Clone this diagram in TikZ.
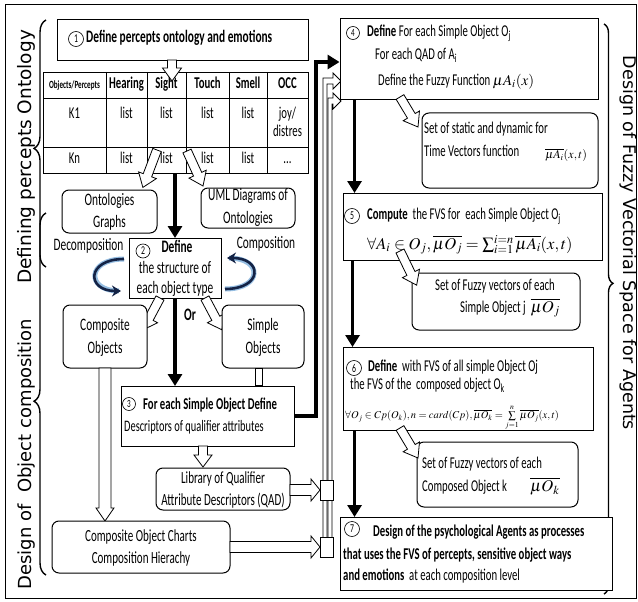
\documentclass[tikz,border=0pt]{standalone}
\usepackage{mathptmx}
\usepackage[no-math]{fontspec}
\setmainfont{Carlito}[FakeStretch=0.65]
\newfontfamily\lblfont{DejaVu Sans}
\usetikzlibrary{arrows.meta,decorations.pathreplacing}
\definecolor{dknavy}{RGB}{20,35,70}
\newcommand\fsz[1]{\fontsize{#1}{#1}\selectfont}
\newcommand\arsw{4.5}
\newcommand\arhw{9.5}
\newcommand\harrow[4][13]{%
  \begin{scope}[shift={(#2)},rotate=#3]
    \draw[holl] (0,-\arsw) -- ({#4-#1},-\arsw) -- ({#4-#1},-\arhw) -- (#4,0) -- ({#4-#1},\arhw) -- ({#4-#1},\arsw) -- (0,\arsw) -- cycle;
  \end{scope}}
\begin{document}
\begin{tikzpicture}[x=1pt,y=-1pt,
  bx/.style={draw, line width=0.9pt, fill=white, inner sep=0pt},
  rbx/.style={bx, rounded corners=7pt, line width=1pt},
  holl/.style={draw, fill=white, line width=0.8pt, line join=miter},
  tarr/.style={line width=3.2pt, -{Triangle[length=12pt,width=14pt]}},
  tx/.style={inner sep=0pt, text height=10pt, text depth=3pt, font=\fsz{16.5}},
  tb/.style={tx, font=\fsz{16.5}\bfseries},
  numc/.style={circle, draw, line width=0.6pt, inner sep=0pt, minimum size=15pt, font=\fsz{12}, fill=white},
  brc/.style={decorate, line width=1.4pt},
  lab/.style={inner sep=0pt},
  curv/.style={line width=2.6pt, draw=dknavy, -{Stealth[length=9pt,width=11pt]}},
  glow/.style={line width=5pt, draw=cyan!50!blue, opacity=0.45}
]
\fill[white] (0,0) rectangle (638,602);
\path[use as bounding box] (0,0) rectangle (638,602);
\draw[line width=0.8pt] (5,4) rectangle (636,598);

% braces and side labels
\draw[brc, decoration={brace, amplitude=12pt, aspect=0.48}] (46,267) -- (46,20);
\draw[brc, decoration={brace, amplitude=12pt, aspect=0.48}] (46,575) -- (46,213);
\draw[brc, decoration={brace, amplitude=9pt, aspect=0.455}] (604,24) -- (604,594);
\node[lab, font=\lblfont\fsz{18.5}, rotate=90] (L1) at (26,157) {Defining percepts Ontology};
\node[lab, font=\lblfont\fsz{18}, rotate=90] (L2) at (27,454) {Design of\ \ Object composition};
\node[lab, font=\lblfont\fsz{17.5}, rotate=-90] (L3) at (628,243) {Design of Fuzzy Vectorial Space for Agents};

% step 1
\node[bx, minimum width=251pt, minimum height=41pt] (s1) at (182.5,39.5) {};
\node[numc] (c1) at (76,39) {1};
\node[tx, font=\fsz{17.5}\bfseries, anchor=west] (t1) at (86,39) {Define percepts ontology and emotions};

% table
\node[bx, minimum width=265pt, minimum height=101pt] (tbl) at (175.5,122.5) {};
\foreach \yy in {98,147} \draw[line width=0.8pt] (43,\yy) -- (308,\yy);
\foreach \xx in {106,147,186,229,267} \draw[line width=0.8pt] (\xx,72) -- (\xx,173);
\node[tb, font=\fsz{11}\bfseries] (h0) at (74.5,85) {Objects/Percepts};
\node[tb] (h1) at (126.5,85) {Hearing};
\node[tb] (h2) at (166.5,85) {Sight};
\node[tb] (h3) at (207.5,85) {Touch};
\node[tb] (h4) at (248,85) {Smell};
\node[tb] (h5) at (287.5,85) {OCC};
\node[tx] (r10) at (74.5,115) {K1};
\node[tx] (r11) at (126.5,115) {list};
\node[tx] (r12) at (166.5,115) {list};
\node[tx] (r13) at (207.5,115) {list};
\node[tx] (r14) at (248,115) {list};
\node[tx] (r15) at (287.5,115) {joy/};
\node[tx] (r16) at (287.5,133) {distres};
\node[tx] (r20) at (74.5,160) {Kn};
\node[tx] (r21) at (126.5,160) {list};
\node[tx] (r22) at (166.5,160) {list};
\node[tx] (r23) at (207.5,160) {list};
\node[tx] (r24) at (248,160) {list};
\node[tx] (r25) at (287.5,160) {...};

\harrow{172,60}{-90}{21}
\harrow{157,150}{-110.7}{40}
\harrow{187,151}{-65.4}{38.5}

% ontologies / uml
\node[rbx, minimum width=95pt, minimum height=43pt] (ont) at (109.5,211.5) {};
\node[tx, font=\fsz{17.5}] (ont1) at (109.5,202) {Ontologies};
\node[tx, font=\fsz{17.5}] (ont2) at (109.5,224) {Graphs};
\node[rbx, minimum width=94pt, minimum height=40pt] (uml) at (248,208) {};
\node[tx, font=\fsz{17.5}] (uml1) at (248,197) {UML Diagrams of};
\node[tx, font=\fsz{17.5}] (uml2) at (248,220) {Ontologies};

\draw[tarr] (tbl.south -| 175,0) -- (175,238);

% step 2
\node[tx, font=\fsz{17.5}, fill=white, inner xsep=2pt, inner ysep=2pt] (dec) at (88.5,246.5) {Decomposition};
\node[tx, font=\fsz{17.5}, fill=white, inner xsep=2pt, inner ysep=2pt] (com) at (266,245) {Composition};
\node[bx, minimum width=92pt, minimum height=60pt] (s2) at (175,268) {};
\node[numc, minimum size=14pt] (c2) at (143,251) {2};
\node[tb, font=\fsz{17.5}\bfseries] (t2a) at (177,249) {Define};
\node[tx, font=\fsz{17.5}] (t2b) at (175,270) {the structure of};
\node[tx, font=\fsz{17.5}] (t2c) at (175,290) {each object type};

\draw[glow] (124,259) .. controls (86,259) and (86,291) .. (119,291);
\draw[curv] (124,259) .. controls (86,259) and (86,291) .. (121,291);
\draw[glow] (225,289) .. controls (263,289) and (263,258) .. (229,258);
\draw[curv] (225,289) .. controls (263,289) and (263,258) .. (227,258);

\node[tb, font=\fsz{17.5}\bfseries] (or) at (190,317) {Or};
\harrow{160,298}{-118}{36}
\harrow{205,298}{-62}{36}

\node[rbx, minimum width=84pt, minimum height=63pt] (cobj) at (105,336.5) {};
\node[tx, font=\fsz{17.5}] (co1) at (105,327) {Composite};
\node[tx, font=\fsz{17.5}] (co2) at (105,350) {Objects};
\node[rbx, minimum width=82pt, minimum height=63pt] (sobj) at (263,336.5) {};
\node[tx, font=\fsz{17.5}] (so1) at (263,327) {Simple};
\node[tx, font=\fsz{17.5}] (so2) at (263,350) {Objects};

\draw[tarr] (s2.south) -- (s2.south |- 0,386);

% step 3
\node[bx, minimum width=173pt, minimum height=60pt] (s3) at (207.5,416) {};
\node[numc, minimum size=13pt, font=\fsz{11}] (c3) at (129,404) {3};
\node[tb, anchor=west] (t3a) at (143,406) {For each Simple Object Define};
\node[tx, anchor=west, font=\fsz{16}] (t3b) at (124,428) {Descriptors of qualifier attributes};
\draw[holl] ([xshift=-8pt]sobj.south) rectangle ([xshift=-1pt]sobj.south |- s3.north);

\renewcommand\arsw{6}\renewcommand\arhw{9}
\harrow[13]{105,368}{-90}{153}
\renewcommand\arsw{4.5}\renewcommand\arhw{9}
\harrow[12]{203,446}{-90}{21}

\node[rbx, minimum width=134pt, minimum height=42pt] (lib) at (223,489) {};
\node[tx, font=\fsz{17}] (lib1) at (223,480) {Library of Qualifier};
\node[tx, font=\fsz{17}] (lib2) at (223,502) {Attribute Descriptors (QAD)};
\node[rbx, minimum width=178pt, minimum height=52pt] (cht) at (141,547) {};
\node[tx, font=\fsz{17}] (ch1) at (141,538) {Composite Object Charts};
\node[tx, font=\fsz{17}] (ch2) at (141,560) {Composition Hierachy};

% pipes into step 4
\draw[holl] (323,547) -- (323,78) -- (333,78) -- (333,73) -- (341,81) -- (333,89) -- (333,84) -- (327,84) -- (327,547);
\draw[holl] (328,547) -- (328,98) -- (333,98) -- (333,93) -- (341,101) -- (333,109) -- (333,104) -- (332,104) -- (332,547);
\node[bx, minimum width=13pt, minimum height=20pt] (sq1) at (326.5,490) {};
\node[bx, minimum width=13pt, minimum height=20pt] (sq2) at (326.5,547) {};
\renewcommand\arsw{5.5}\renewcommand\arhw{11}
\harrow[9]{290,490}{0}{30}
\harrow[9]{230,547}{0}{90}
\renewcommand\arsw{4.5}\renewcommand\arhw{9.5}

% step 4
\node[bx, minimum width=258pt, minimum height=81pt] (s4) at (469,58.5) {};
\coordinate (k1) at (316,62);
\draw[tarr] (s3.east) -| (k1) -- (k1 -| s4.west);
\node[numc, minimum size=13pt, font=\fsz{11}] (c4) at (353,33) {4};
\node[tx, anchor=west] (t4a) at (367,33) {\textbf{Define} For each Simple Object O\textsubscript{j}};
\node[tx, anchor=west] (t4b) at (375,56) {For each QAD of A\textsubscript{i}};
\node[tx, anchor=west] (t4c) at (378,82) {Define the Fuzzy Function {\fsz{15}$\mu A_i(x)$}};

\node[rbx, minimum width=176pt, minimum height=75pt] (set1) at (510,150.5) {};
\node[tx, anchor=west] (st1) at (424,130) {Set of static and dynamic for};
\node[tx, anchor=west] (st2) at (424,153) {Time Vectors function};
\node[tx, anchor=west, font=\fsz{12}] (st3) at (545,155) {$\overline{\mu A_i}(x,t)$};
\harrow{400,97}{-59}{35}

\coordinate (a4) at ([xshift=15pt]s4.south west);
\draw[tarr] (a4) -- (a4 |- 0,193);

% step 5
\node[bx, minimum width=259pt, minimum height=67pt] (s5) at (472.5,226.5) {};
\node[numc] (c5) at (352,216) {5};
\node[tx, anchor=west] (t5a) at (367,216) {\textbf{Compute}\ \ the FVS for\ \ each Simple Object O\textsubscript{j}};
\node[tx, anchor=west] (t5b) at (367,246) {$\forall A_i \in O_j, \overline{\mu O_j} = \sum_{i=1}^{i=n} \overline{\mu A_i}(x,t)$};

\node[rbx, minimum width=168pt, minimum height=57pt] (set2) at (496,301.5) {};
\node[tx] (ss1) at (495,287) {Set of Fuzzy vectors of each};
\node[tx, anchor=west] (ss2) at (460,309) {Simple Object j\ \ $\overline{\mu O_j}$};
\harrow{400,251}{-64}{38}

\coordinate (a5) at ([xshift=10pt]s5.south west);
\draw[tarr] (a5) -- (a5 |- 0,347);

% step 6
\node[bx, minimum width=250pt, minimum height=83pt] (s6) at (468,388.5) {};
\node[numc] (c6) at (354,368) {6};
\node[tx, anchor=west] (t6a) at (368,368) {\textbf{Define}\ \ with FVS of all simple Object Oj};
\node[tx, anchor=west] (t6b) at (350,386) {the FVS of the\ \ composed object O\textsubscript{k}};
\node[tx, anchor=west, font=\fsz{10.5}] (t6c) at (345,415) {$\forall O_j \in Cp(O_k), n = card(Cp), \overline{\mu O_k} = \sum\limits_{j=1}^{n} \overline{\mu O_j}(x,t)$};

\node[rbx, minimum width=161pt, minimum height=65pt] (set3) at (497.5,474.5) {};
\node[tx, anchor=west] (sc1) at (422,465) {Set of Fuzzy vectors of each};
\node[tx, anchor=west] (sc2) at (422,488) {Composed Object k};
\node[tx, anchor=west] (sc3) at (530,488) {$\overline{\mu O_k}$};
\harrow{400,428}{-59}{35}

\coordinate (a6) at ([xshift=12pt]s6.south west);
\draw[tarr] (a6) -- (a6 |- 0,517);

% step 7
\node[bx, minimum width=272pt, minimum height=73pt] (s7) at (476,553.5) {};
\node[numc] (c7) at (352,529) {7};
\node[tb, anchor=west] (t7a) at (373,533) {Design of the psychological Agents as processes};
\node[tb, anchor=west] (t7b) at (343,556) {that uses the FVS of percepts, sensitive object ways};
\node[tx, anchor=west] (t7c) at (343,577) {\textbf{and emotions}\ \ at each composition level};
\end{tikzpicture}
\end{document}
